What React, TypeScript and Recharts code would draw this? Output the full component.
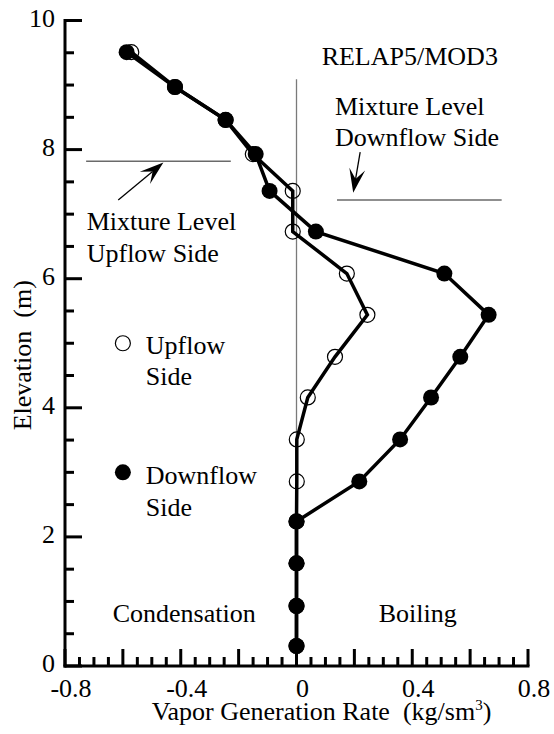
import { ScatterChart, Scatter, XAxis, YAxis, ReferenceLine, ReferenceDot } from "recharts";

// elevation of each node (m), shared by both sides
const elevation = [9.51, 8.97, 8.46, 7.93, 7.36, 6.73, 6.08, 5.44, 4.79, 4.16, 3.51, 2.86, 2.24, 1.59, 0.93, 0.31];
// vapor generation rate (kg/sm3)
const upflowRate = [-0.571, -0.42, -0.245, -0.151, -0.013, -0.013, 0.174, 0.245, 0.133, 0.039, 0.001, 0.001, 0, 0, 0, 0];
const downflowRate = [-0.587, -0.42, -0.245, -0.141, -0.093, 0.067, 0.511, 0.664, 0.566, 0.465, 0.358, 0.217, 0, 0, 0, 0];

const xTicks = [
  -0.8, -0.75, -0.7, -0.65, -0.6, -0.55, -0.5, -0.45, -0.4, -0.35, -0.3, -0.25, -0.2, -0.15, -0.1, -0.05,
  0, 0.05, 0.1, 0.15, 0.2, 0.25, 0.3, 0.35, 0.4, 0.45, 0.5, 0.55, 0.6, 0.65, 0.7, 0.75, 0.8,
];
const xLabels = [-0.8, -0.4, 0, 0.4, 0.8];
const yTicks = [0, 0.5, 1, 1.5, 2, 2.5, 3, 3.5, 4, 4.5, 5, 5.5, 6, 6.5, 7, 7.5, 8, 8.5, 9, 9.5, 10];
const yLabels = [0, 2, 4, 6, 8, 10];

const upflow = elevation.map((y, i) => ({ x: upflowRate[i], y }));
const downflow = elevation.map((y, i) => ({ x: downflowRate[i], y }));

const FONT = '"Liberation Serif", "Times New Roman", serif';
const FS = 26;
const MAJOR = 17;
const MINOR = 9;

const near = (a: number, b: number) => Math.abs(a - b) < 1e-6;
const isMult = (v: number, step: number) => near(v / step, Math.round(v / step));

const BottomTick = (p: any) => {
  const v = p.payload.value;
  const len = isMult(v, 0.2) ? MAJOR : MINOR;
  return (
    <g>
      <line x1={p.x} x2={p.x} y1={p.y} y2={p.y - len} stroke="#000" strokeWidth={3} />
      {xLabels.some(l => near(l, v)) && (
        <text x={p.x + 6} y={p.y + 31} textAnchor="middle" fontFamily={FONT} fontSize={FS} fill="#000">
          {String(v)}
        </text>
      )}
    </g>
  );
};

const TopTick = (p: any) => {
  const len = isMult(p.payload.value, 0.2) ? MAJOR : MINOR;
  return <line x1={p.x} x2={p.x} y1={p.y} y2={p.y + len} stroke="#000" strokeWidth={3} />;
};

const LeftTick = (p: any) => {
  const v = p.payload.value;
  const len = isMult(v, 2) ? MAJOR : MINOR;
  return (
    <g>
      <line x1={p.x} x2={p.x + len} y1={p.y} y2={p.y} stroke="#000" strokeWidth={3} />
      {yLabels.some(l => near(l, v)) && (
        <text x={p.x - 10} y={p.y + 6} textAnchor="end" fontFamily={FONT} fontSize={FS} fill="#000">
          {String(v)}
        </text>
      )}
    </g>
  );
};

const RightTick = (p: any) => {
  const len = isMult(p.payload.value, 2) ? MAJOR : MINOR;
  return <line x1={p.x} x2={p.x - len} y1={p.y} y2={p.y} stroke="#000" strokeWidth={3} />;
};

const XTitle = (p: any) => {
  const vb = p.viewBox;
  return (
    <text x={vb.x + vb.width / 2 + 25} y={vb.y + 54} textAnchor="middle" fontFamily={FONT} fontSize={FS} fill="#000" style={{ whiteSpace: "pre" }}>
      <tspan>Vapor Generation Rate  (kg/sm</tspan>
      <tspan dy={-10} fontSize={15}>3</tspan>
      <tspan dy={10}>)</tspan>
    </text>
  );
};

const YTitle = (p: any) => {
  const vb = p.viewBox;
  const cy = vb.y + vb.height / 2 + 12;
  return (
    <text x={31} y={cy} transform={`rotate(-90 31 ${cy})`} textAnchor="middle" fontFamily={FONT} fontSize={FS} fill="#000" style={{ whiteSpace: "pre" }}>
      Elevation  (m)
    </text>
  );
};

const OpenCircle = (p: any) => <circle cx={p.cx} cy={p.cy} r={7.5} fill="none" stroke="#000" strokeWidth={1.2} />;
const FilledCircle = (p: any) => <circle cx={p.cx} cy={p.cy} r={8} fill="#000" />;

const Arrow = (p: any) => {
  const { x1, y1, x2, y2 } = p;
  const dx = x2 - x1;
  const dy = y2 - y1;
  const L = Math.hypot(dx, dy) || 1;
  const ux = dx / L;
  const uy = dy / L;
  const nx = -uy;
  const ny = ux;
  const len = 24;
  const hw = 8;
  const notch = 14;
  const bx = x2 - ux * len;
  const by = y2 - uy * len;
  const pts = [
    [x2, y2],
    [bx + nx * hw, by + ny * hw],
    [x2 - ux * notch, y2 - uy * notch],
    [bx - nx * hw, by - ny * hw],
  ]
    .map(q => q.join(","))
    .join(" ");
  return (
    <g>
      <line x1={x1} y1={y1} x2={x2 - ux * notch} y2={y2 - uy * notch} stroke="#000" strokeWidth={1.3} />
      <polygon points={pts} fill="#000" />
    </g>
  );
};

const note = (key: string, x: number, y: number, text: string, anchor = "start") => (
  <ReferenceDot
    key={key}
    x={x}
    y={y}
    r={1}
    ifOverflow="visible"
    shape={(p: any) => (
      <text x={p.cx} y={p.cy} textAnchor={anchor} fontFamily={FONT} fontSize={FS} fill="#000">
        {text}
      </text>
    )}
  />
);

export default function App() {
  return (
    <div style={{ position: "absolute", left: 0, top: 0, width: 554, height: 734, background: "#fff" }}>
      <ScatterChart width={554} height={734} margin={{ top: 20.5, right: 26, bottom: 0, left: 0 }}>
        <XAxis
          type="number"
          dataKey="x"
          domain={[-0.8, 0.8]}
          ticks={xTicks}
          interval={0}
          tickSize={0}
          tickMargin={0}
          height={68}
          tickLine={false}
          axisLine={{ stroke: "#000", strokeWidth: 3, strokeLinecap: "square" }}
          tick={BottomTick}
          label={XTitle}
        />
        <XAxis
          xAxisId="top"
          orientation="top"
          type="number"
          domain={[-0.8, 0.8]}
          ticks={xTicks}
          interval={0}
          tickSize={0}
          tickMargin={0}
          height={0}
          tickLine={false}
          axisLine={{ stroke: "#000", strokeWidth: 3, strokeLinecap: "square" }}
          tick={TopTick}
        />
        <YAxis
          type="number"
          dataKey="y"
          domain={[0, 10]}
          ticks={yTicks}
          interval={0}
          tickSize={0}
          tickMargin={0}
          width={65}
          tickLine={false}
          axisLine={{ stroke: "#000", strokeWidth: 3, strokeLinecap: "square" }}
          tick={LeftTick}
          label={YTitle}
        />
        <YAxis
          yAxisId="right"
          orientation="right"
          type="number"
          domain={[0, 10]}
          ticks={yTicks}
          interval={0}
          tickSize={0}
          tickMargin={0}
          width={0}
          tickLine={false}
          axisLine={{ stroke: "#000", strokeWidth: 3, strokeLinecap: "square" }}
          tick={RightTick}
        />

        {/* zero line and mixture levels */}
        <ReferenceLine segment={[{ x: 0, y: 0 }, { x: 0, y: 9.09 }]} stroke="#7a7a7a" strokeWidth={1.3} />
        <ReferenceLine segment={[{ x: -0.727, y: 7.82 }, { x: -0.227, y: 7.82 }]} stroke="#6a6a6a" strokeWidth={1.5} />
        <ReferenceLine segment={[{ x: 0.14, y: 7.22 }, { x: 0.709, y: 7.22 }]} stroke="#6a6a6a" strokeWidth={1.5} />
        <ReferenceLine segment={[{ x: -0.616, y: 7.22 }, { x: -0.46, y: 7.8 }]} shape={Arrow} />
        <ReferenceLine segment={[{ x: 0.22, y: 7.96 }, { x: 0.196, y: 7.33 }]} shape={Arrow} />

        <Scatter
          name="Upflow Side"
          data={upflow}
          line={{ stroke: "#000", strokeWidth: 3.5 }}
          shape={OpenCircle}
          isAnimationActive={false}
        />
        <Scatter
          name="Downflow Side"
          data={downflow}
          line={{ stroke: "#000", strokeWidth: 3.5 }}
          shape={FilledCircle}
          isAnimationActive={false}
        />

        {/* legend markers */}
        <ReferenceDot x={-0.6} y={5} r={1} shape={OpenCircle} />
        <ReferenceDot x={-0.6} y={3} r={1} shape={FilledCircle} />

        {note("relap", 0.696, 9.31, "RELAP5/MOD3", "end")}
        {note("mld1", 0.133, 8.54, "Mixture Level")}
        {note("mld2", 0.133, 8.06, "Downflow Side")}
        {note("mlu1", -0.725, 6.75, "Mixture Level")}
        {note("mlu2", -0.725, 6.26, "Upflow Side")}
        {note("lgu1", -0.521, 4.84, "Upflow")}
        {note("lgu2", -0.521, 4.35, "Side")}
        {note("lgd1", -0.521, 2.82, "Downflow")}
        {note("lgd2", -0.521, 2.33, "Side")}
        {note("cond", -0.635, 0.68, "Condensation")}
        {note("boil", 0.284, 0.68, "Boiling")}
      </ScatterChart>
    </div>
  );
}
